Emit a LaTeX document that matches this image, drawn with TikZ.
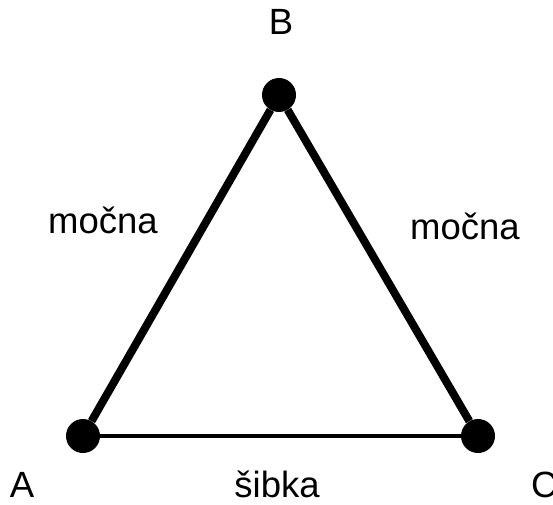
\documentclass[tikz,border=0pt]{standalone}
\usepackage{fontspec}
\setmainfont{Liberation Sans}
\usetikzlibrary{positioning}

\begin{document}
\begin{tikzpicture}[
    x=1pt, y=1pt,
    font=\fontsize{36.5}{44}\selectfont,
    vertex/.style={circle, fill=black, minimum size=34pt, inner sep=0pt},
    strong/.style={line width=8pt},
    weak/.style={line width=3.5pt},
    tag/.style={inner sep=0pt, anchor=base}
]
\useasboundingbox (0, 0) rectangle (553, 504);

% Vertices of the triangle
\node[vertex] (A) at (83, 68) {};
\node[vertex] (B) at (279, 409) {};
\node[vertex] (C) at (478, 68) {};

% Vertex names
\node[tag] (labA) at (22, 7) {A};
\node[tag] (labB) at (281, 469) {B};
\node[tag, anchor=base west] (labC) at (531, 7) {C};

% Ties
\draw[strong] (A) -- (B);
\draw[strong] (B) -- (C);
\draw[weak] (A) -- (C);

% Tie strengths
\node[tag] (lab1) at (103, 271) {močna};
\node[tag] (lab2) at (465, 265) {močna};
\node[tag] (lab3) at (277, 7) {šibka};

\end{tikzpicture}
\end{document}
